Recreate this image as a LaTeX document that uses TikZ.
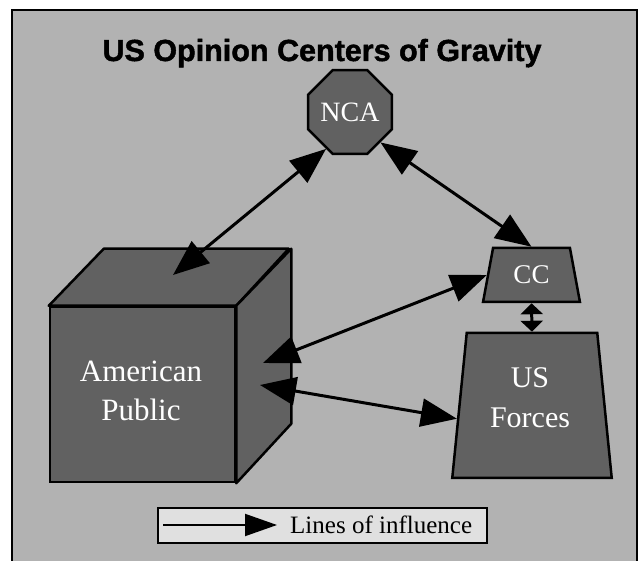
\documentclass[tikz,border=0pt]{standalone}
\usepackage{fontspec}
\setmainfont{Liberation Serif}
\newfontfamily\titlefont[FakeBold=1.5]{Liberation Sans Bold}
\usetikzlibrary{arrows.meta,shapes.geometric,calc}
\definecolor{bgc}{gray}{0.70}
\definecolor{nodec}{gray}{0.38}
\definecolor{legc}{gray}{0.88}
\tikzset{
  shapebox/.style={draw=black,line width=2.5pt,fill=nodec,text=white,inner sep=0pt,font=\fontsize{28}{34}\selectfont,align=center},
  lbltext/.style={text=white,inner sep=0pt,align=center},
  influence/.style={line width=3pt,{Triangle[length=36pt,width=28pt]}-{Triangle[length=36pt,width=28pt]}},
  smallinfluence/.style={line width=3pt,{Triangle[length=11pt,width=22pt]}-{Triangle[length=11pt,width=22pt]}},
  facebox/.style={draw=black,line width=2.5pt,fill=nodec,line join=round}
}
\begin{document}
\begin{tikzpicture}[x=1pt,y=-1pt]
\useasboundingbox (0,0) rectangle (638,561);
\fill[white] (0,0) rectangle (638,561);
\draw[fill=bgc,line width=2pt] (12,10) rectangle (637,563);
\node[font=\titlefont\fontsize{30.5}{34}\selectfont,anchor=base] (title) at (322,61) {US Opinion Centers of Gravity};
% cube
\node[shapebox,minimum width=185pt,minimum height=175pt] (ap) at (142.5,394.5) {};
\draw[facebox] (ap.north west) -- ++(55,-57) -- ++(185,0) -- (ap.north east) -- cycle;
\draw[facebox] (ap.north east) -- ++(55,-57) -- ++(0,175) -- (ap.south east) -- cycle;
\node[lbltext,font=\fontsize{31}{39}\selectfont] (aptext) at (141,391) {American\\Public};
\coordinate (apN) at (173,275);
\coordinate (apCC) at (263,363);
\coordinate (apUS) at (260,385);
% NCA
\node[shapebox,regular polygon,regular polygon sides=8,minimum size=81pt] (nca) at (350,112) {NCA};
% CC
\node[shapebox,trapezium,trapezium left angle=75.5,trapezium right angle=75.5,trapezium stretches=true,minimum width=97pt,minimum height=54pt,font=\fontsize{27}{32}\selectfont] (cc) at (531.5,275) {CC};
% US Forces
\node[shapebox,trapezium,trapezium left angle=78.1,trapezium right angle=78.1,trapezium stretches=true,minimum width=160pt,minimum height=145pt] (usf) at (532,405.5) {\phantom{US}};
\node[lbltext,font=\fontsize{30}{40}\selectfont] (usftext) at (530,398) {US\\Forces};
% connectors
\draw[influence] (apN) -- (nca.237);
\draw[influence] (nca.315) -- (cc.north);
\draw[influence] (apCC) -- (cc.west);
\draw[influence] (apUS) -- (usf.190);
\draw[smallinfluence] (cc.south) -- (usf.north);
% legend
\node[draw=black,line width=2pt,fill=legc,minimum width=329pt,minimum height=35pt,inner sep=0pt] (legend) at (322.5,525.5) {};
\coordinate (legA) at (163,525);
\coordinate (legB) at (277,525);
\draw[line width=2pt,-{Triangle[length=32pt,width=22pt]}] (legA) -- (legB);
\node[anchor=base west,font=\fontsize{25}{30}\selectfont,inner sep=0pt] (legtext) at (290,533) {Lines of influence};
\end{tikzpicture}
\end{document}
